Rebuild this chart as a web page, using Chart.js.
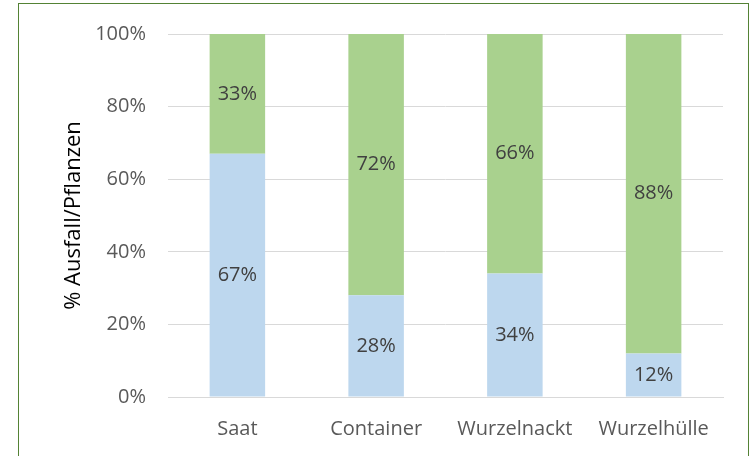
<!DOCTYPE html>
<html><head><meta charset="utf-8">
<script src="https://cdn.jsdelivr.net/npm/chart.js@4"></script>
<style>
html,body{margin:0;padding:0;background:#fff;overflow:hidden}
#wrap{position:relative;width:755px;height:456px}
#frame{position:absolute;left:18px;top:3px;width:731px;height:470px;border:1.5px solid #548235;box-sizing:border-box}
canvas{position:absolute;left:0;top:0}
</style></head>
<body><div id="wrap"><div id="frame"></div><canvas id="c" width="755" height="456"></canvas></div>
<script>
const categories = ["Saat", "Container", "Wurzelnackt", "Wurzelhülle"];
const blueValues = [67, 28, 34, 12];
const greenValues = [33, 72, 66, 88];
const yTicks = [0, 20, 40, 60, 80, 100];
const FONT = "'Open Sans', 'Noto Sans', sans-serif";

const labelPlugin = {
  id: 'segLabels',
  afterDatasetsDraw(chart) {
    const ctx = chart.ctx;
    ctx.save();
    ctx.font = "20px " + FONT;
    ctx.fillStyle = '#404040';
    ctx.textAlign = 'center';
    ctx.textBaseline = 'middle';
    chart.data.datasets.forEach((ds, di) => {
      const meta = chart.getDatasetMeta(di);
      meta.data.forEach((bar, i) => {
        const y = (bar.y + bar.base) / 2;
        ctx.fillText(ds.data[i] + '%', bar.x, y);
      });
    });
    ctx.restore();
  }
};

new Chart(document.getElementById('c'), {
  type: 'bar',
  data: {
    labels: categories,
    datasets: [
      { data: blueValues, backgroundColor: '#BDD7EE', barPercentage: 0.4, categoryPercentage: 1 },
      { data: greenValues, backgroundColor: '#A9D18E', barPercentage: 0.4, categoryPercentage: 1 }
    ]
  },
  options: {
    responsive: false,
    animation: false,
    layout: { padding: { left: 61, right: 32, top: 32, bottom: 0 } },
    plugins: { legend: { display: false }, tooltip: { enabled: false } },
    scales: {
      x: {
        stacked: true,
        grid: { display: false, drawTicks: false },
        border: { color: '#D9D9D9', width: 1 },
        ticks: { color: '#595959', font: { family: FONT, size: 20 }, padding: 20 },
        afterFit(s) { s.height = 59; }
      },
      y: {
        stacked: true,
        min: 0, max: 100,
        afterBuildTicks(s) { s.ticks = yTicks.map(v => ({ value: v })); },
        grid: { color: '#D9D9D9', drawTicks: false },
        border: { display: false },
        ticks: { color: '#595959', font: { family: FONT, size: 20 }, padding: 22, callback: v => v + '%' },
        title: { display: true, text: '% Ausfall/Pflanzen', color: '#000', font: { family: FONT, size: 22 }, padding: 0 },
        afterFit(s) { s.width = 107; }
      }
    }
  },
  plugins: [labelPlugin]
});
</script></body></html>
